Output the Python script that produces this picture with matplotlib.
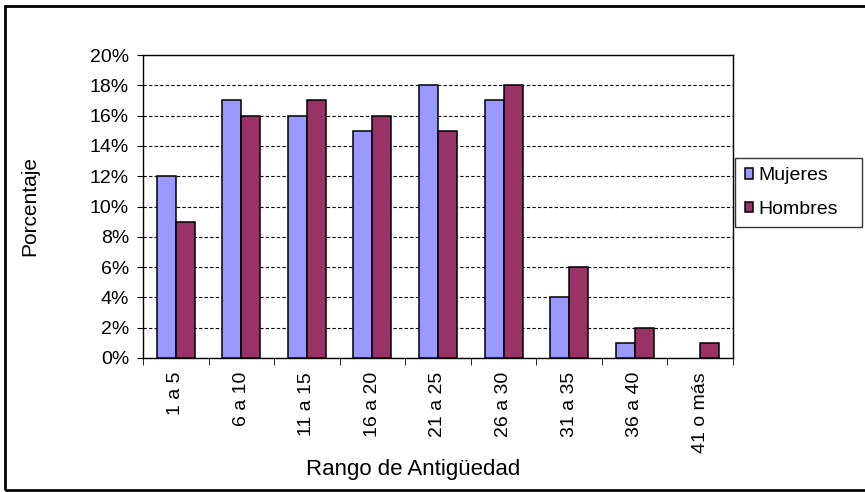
import matplotlib.pyplot as plt
import numpy as np
from matplotlib.patches import Rectangle
from matplotlib.ticker import PercentFormatter

plt.rcParams['font.family'] = ['Liberation Sans', 'DejaVu Sans']

# Data
rangos = ["1 a 5", "6 a 10", "11 a 15", "16 a 20", "21 a 25",
          "26 a 30", "31 a 35", "36 a 40", "41 o más"]
mujeres = [12, 17, 16, 15, 18, 17, 4, 1, 0]
hombres = [9, 16, 17, 16, 15, 18, 6, 2, 1]

W, H = 865, 492
fig = plt.figure(figsize=(W / 100, H / 100), dpi=100)
ax = fig.add_axes([143 / W, 1 - 358 / H, 590 / W, 303 / H])

x = np.arange(len(rangos))
w = 0.29
b1 = ax.bar(x - w / 2, mujeres, w, color="#9999FF", edgecolor="black", linewidth=1.1,
            label="Mujeres", zorder=3)
b2 = ax.bar(x + w / 2, hombres, w, color="#993366", edgecolor="black", linewidth=1.1,
            label="Hombres", zorder=3)
# no outline for empty bars
for bars, vals in ((b1, mujeres), (b2, hombres)):
    for r, v in zip(bars, vals):
        if v == 0:
            r.set_linewidth(0)

ax.set_xlim(-0.5, len(rangos) - 0.5)
ax.set_ylim(0, 20)
ax.set_yticks(np.arange(0, 21, 2))
ax.yaxis.set_major_formatter(PercentFormatter(decimals=0))
ax.grid(axis="y", color="black", linestyle=(0, (3, 2)), linewidth=0.8, zorder=0)

# category labels in the middle, ticks on the boundaries
ax.set_xticks(x)
ax.set_xticklabels(rangos, rotation=90, fontsize=14)
ax.tick_params(axis="x", length=0, pad=10)
ax.set_xticks(np.arange(-0.5, len(rangos), 1), minor=True)
ax.tick_params(axis="x", which="minor", length=5, direction="out")
ax.tick_params(axis="y", length=4, direction="out", labelsize=14, pad=6)

for s in ax.spines.values():
    s.set_color("black")
    s.set_linewidth(1)

fig.text(30 / W, 1 - 206 / H, "Porcentaje", rotation=90, fontsize=15,
         ha="center", va="center")
fig.text(413 / W, 1 - 470 / H, "Rango de Antigüedad", fontsize=16,
         ha="center", va="center")

leg = ax.legend(loc="center", bbox_to_anchor=(735 / W, 1 - 228 / H, 127 / W, 71 / H),
                bbox_transform=fig.transFigure, mode="expand", borderaxespad=0,
                fontsize=14, frameon=True, fancybox=False, edgecolor="black",
                handlelength=0.45, handleheight=0.45, handletextpad=0.25,
                borderpad=0.5, labelspacing=0.85)
leg.get_frame().set_linewidth(1)

# outer frame (cut off on the right like the original)
fig.patches.append(Rectangle((5 / W, 2 / H), 1.0, 1 - 8 / H, transform=fig.transFigure,
                             fill=False, edgecolor="black", linewidth=2))

fig.savefig("out.png", dpi=100)
